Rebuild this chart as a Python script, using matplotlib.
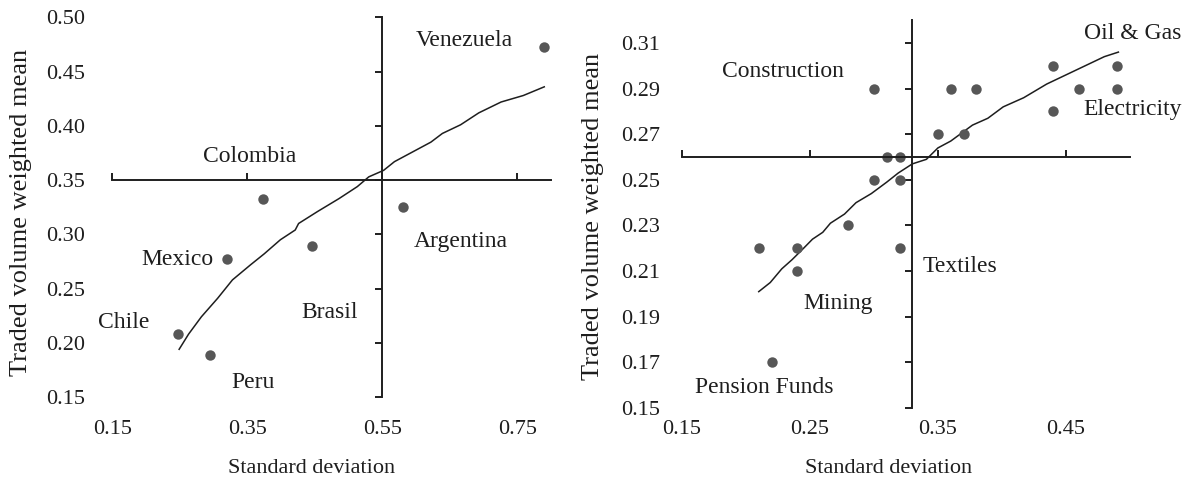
import matplotlib
matplotlib.use("Agg")
import matplotlib.pyplot as plt
import numpy as np

plt.rcParams['font.family'] = ['Liberation Serif', 'DejaVu Serif']

# --- countries ---
country_names = ['Venezuela', 'Colombia', 'Argentina', 'Brasil', 'Mexico', 'Chile', 'Peru']
country_sd = [0.79, 0.373, 0.581, 0.446, 0.320, 0.247, 0.294]
country_mean = [0.473, 0.333, 0.325, 0.289, 0.277, 0.208, 0.189]
# where each name is written
country_lab_x = [0.672, 0.353, 0.667, 0.472, 0.246, 0.167, 0.359]
country_lab_y = [0.479, 0.372, 0.293, 0.228, 0.277, 0.219, 0.163]
# fitted frontier
country_fit_x = [0.249, 0.263, 0.282, 0.306, 0.328, 0.355, 0.375, 0.399, 0.421, 0.426,
                 0.454, 0.486, 0.513, 0.530, 0.552, 0.568, 0.595, 0.622, 0.639, 0.666,
                 0.693, 0.726, 0.759, 0.790]
country_fit_y = [0.194, 0.208, 0.224, 0.241, 0.258, 0.272, 0.282, 0.295, 0.304, 0.310,
                 0.321, 0.333, 0.344, 0.353, 0.359, 0.367, 0.376, 0.385, 0.393, 0.401,
                 0.412, 0.422, 0.428, 0.436]

# --- sectors ---
sector_sd = [0.30, 0.36, 0.38, 0.44, 0.49, 0.46, 0.49, 0.44, 0.35, 0.37,
             0.31, 0.32, 0.30, 0.32, 0.28, 0.21, 0.24, 0.24, 0.32, 0.22]
sector_mean = [0.29, 0.29, 0.29, 0.30, 0.30, 0.29, 0.29, 0.28, 0.27, 0.27,
               0.26, 0.26, 0.25, 0.25, 0.23, 0.22, 0.22, 0.21, 0.22, 0.17]
sector_names = ['Oil & Gas', 'Construction', 'Electricity', 'Textiles', 'Mining', 'Pension Funds']
sector_lab_x = [0.502, 0.229, 0.502, 0.367, 0.272, 0.214]
sector_lab_y = [0.314, 0.2975, 0.281, 0.212, 0.196, 0.159]
sector_fit_x = [0.210, 0.219, 0.228, 0.236, 0.245, 0.252, 0.260, 0.266, 0.277, 0.286,
                0.298, 0.310, 0.319, 0.330, 0.341, 0.350, 0.360, 0.377, 0.389, 0.401,
                0.417, 0.435, 0.450, 0.465, 0.480, 0.491]
sector_fit_y = [0.201, 0.205, 0.211, 0.215, 0.220, 0.224, 0.227, 0.231, 0.235, 0.240,
                0.244, 0.249, 0.253, 0.257, 0.259, 0.264, 0.267, 0.274, 0.277, 0.282,
                0.286, 0.292, 0.296, 0.300, 0.304, 0.306]

DOT = '#575757'
INK = '#1e1e1e'

fig = plt.figure(figsize=(11.86, 4.83), dpi=100)
ax1 = fig.add_axes([0.0947, 0.1553, 0.3756, 0.8199])
ax2 = fig.add_axes([0.5750, 0.1553, 0.3885, 0.8124])


def quadrant_axes(ax, xlim, ylim, xcross, ycross, xb, yb, xticks, yticks, label_pad):
    ax.set_xlim(*xlim)
    ax.set_ylim(*ylim)
    for s in ['top', 'right']:
        ax.spines[s].set_visible(False)
    ax.spines['left'].set_position(('data', xcross))
    ax.spines['bottom'].set_position(('data', ycross))
    ax.spines['left'].set_bounds(*yb)
    ax.spines['bottom'].set_bounds(*xb)
    for s in ['left', 'bottom']:
        ax.spines[s].set_linewidth(1.4)
        ax.spines[s].set_color(INK)
    ax.set_xticks(xticks)
    ax.set_yticks(yticks)
    ax.tick_params(axis='y', direction='out', length=5, width=1.4, color=INK, labelleft=False)
    ax.tick_params(axis='x', direction='in', length=5, width=1.4, color=INK, labelbottom=False)

    # tick labels along the outer edges
    sx = ax.secondary_xaxis(0.0)
    sx.set_xticks(xticks)
    sx.xaxis.set_major_formatter(matplotlib.ticker.FormatStrFormatter('%.2f'))
    sx.tick_params(length=0, pad=9, labelsize=16, colors=INK)
    sx.spines['bottom'].set_visible(False)
    sy = ax.secondary_yaxis(0.0)
    sy.set_yticks(yticks)
    sy.yaxis.set_major_formatter(matplotlib.ticker.FormatStrFormatter('%.2f'))
    sy.tick_params(length=0, pad=label_pad, labelsize=16, colors=INK)
    sy.spines['left'].set_visible(False)
    return sx, sy


sx1, sy1 = quadrant_axes(ax1, (0.15, 0.81), (0.1399, 0.505), 0.55, 0.35,
                         (0.15, 0.80), (0.15, 0.50),
                         [0.15, 0.35, 0.55, 0.75], np.arange(0.15, 0.501, 0.05), 19.5)
sx2, sy2 = quadrant_axes(ax2, (0.15, 0.51), (0.15, 0.322), 0.33, 0.26,
                         (0.15, 0.50), (0.15, 0.32),
                         [0.15, 0.25, 0.35, 0.45], np.arange(0.15, 0.311, 0.02), 16)

ax1.plot(country_fit_x, country_fit_y, color=INK, lw=1.1)
ax1.plot(country_sd, country_mean, 'o', color=DOT, ms=7.5, mec='none')
for name, x, y in zip(country_names, country_lab_x, country_lab_y):
    ax1.text(x, y, name, ha='center', va='center', fontsize=17, color=INK)

ax2.plot(sector_fit_x, sector_fit_y, color=INK, lw=1.1)
ax2.plot(sector_sd, sector_mean, 'o', color=DOT, ms=7.5, mec='none')
for name, x, y in zip(sector_names, sector_lab_x, sector_lab_y):
    ax2.text(x, y, name, ha='center', va='center', fontsize=17, color=INK)

for ax, ylx, yly, xlx, xly in [(ax1, -0.205, 0.495, 0.448, -0.152),
                               (ax2, -0.193, 0.487, 0.449, -0.153)]:
    ax.text(ylx, yly, 'Traded volume weighted mean', transform=ax.transAxes, rotation=90,
            ha='center', va='center', fontsize=19, color=INK)
    ax.text(xlx, xly, 'Standard deviation', transform=ax.transAxes,
            ha='center', va='center', fontsize=16, color=INK)

fig.savefig('out.png', dpi=100)
